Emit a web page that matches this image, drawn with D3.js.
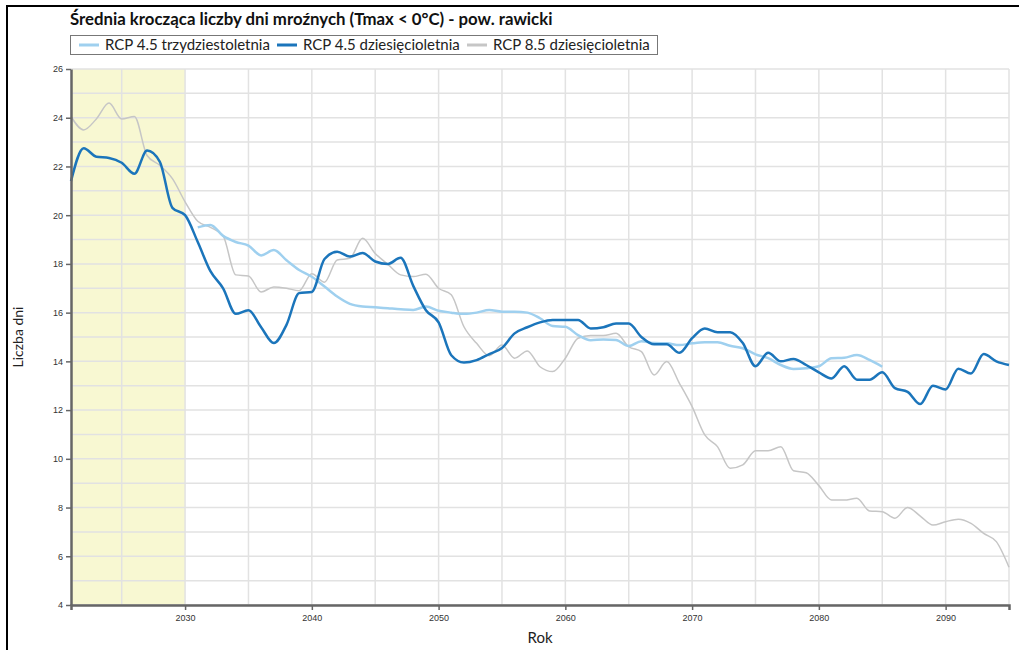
<!DOCTYPE html>
<html><head><meta charset="utf-8">
<script src="https://cdn.jsdelivr.net/npm/d3@7"></script>
<style>
body{margin:0;background:#fff;}
svg{display:block;}
</style></head><body>
<svg id="chart" width="1019" height="650"></svg>
<script>
const titleText = "Średnia krocząca liczby dni mroźnych (Tmax < 0°C) - pow. rawicki";
const seriesNames = ["RCP 4.5 trzydziestoletnia", "RCP 4.5 dziesięcioletnia", "RCP 8.5 dziesięcioletnia"];
const years = [2021,2022,2023,2024,2025,2026,2027,2028,2029,2030,
2031,2032,2033,2034,2035,2036,2037,2038,2039,2040,
2041,2042,2043,2044,2045,2046,2047,2048,2049,2050,
2051,2052,2053,2054,2055,2056,2057,2058,2059,2060,
2061,2062,2063,2064,2065,2066,2067,2068,2069,2070,
2071,2072,2073,2074,2075,2076,2077,2078,2079,2080,
2081,2082,2083,2084,2085,2086,2087,2088,2089,2090,
2091,2092,2093,2094,2095];
const rcp45_30 = [null,null,null,null,null,null,null,null,null,null,
19.5,19.6,19.15,18.9,18.75,18.35,18.57,18.15,17.75,17.47,
17.07,16.66,16.36,16.25,16.22,16.18,16.14,16.11,16.25,16.08,
16.0,15.95,16.0,16.11,16.04,16.04,16.0,15.77,15.45,15.42,
15.08,14.87,14.9,14.88,14.63,14.83,14.75,14.74,14.67,14.74,
14.78,14.78,14.64,14.54,14.29,14.13,13.85,13.69,13.72,13.8,
14.13,14.15,14.26,14.06,13.78,null,null,null,null,null,
null,null,null,null,null];
const rcp45_10 = [21.4,22.75,22.4,22.35,22.15,21.7,22.65,22.2,20.3,20.0,
18.9,17.7,17.0,15.95,16.1,15.4,14.75,15.5,16.8,16.85,
18.2,18.5,18.3,18.45,18.1,18.0,18.25,17.1,16.1,15.6,
14.25,13.95,14.05,14.3,14.55,15.15,15.4,15.6,15.7,15.7,
15.7,15.35,15.4,15.55,15.55,15.0,14.7,14.7,14.35,14.95,
15.35,15.2,15.2,14.75,13.8,14.35,14.0,14.1,13.85,13.55,
13.3,13.8,13.25,13.25,13.55,12.9,12.75,12.25,13.0,12.85,
13.7,13.5,14.3,14.0,13.85];
const rcp85_10 = [24.05,23.5,23.95,24.6,23.95,24.05,22.45,22.05,21.5,20.55,
19.75,19.5,19.15,17.55,17.5,16.85,17.05,17.0,16.9,17.6,
17.25,18.16,18.23,19.05,18.43,17.98,17.55,17.48,17.58,17.0,
16.73,15.42,14.74,14.23,14.67,14.13,14.43,13.78,13.58,14.13,
14.95,15.06,15.06,15.15,14.6,14.4,13.44,13.99,13.1,12.14,
10.98,10.5,9.61,9.75,10.33,10.33,10.5,9.51,9.43,8.9,
8.31,8.31,8.38,7.86,7.83,7.56,8.0,7.65,7.28,7.42,
7.52,7.35,6.94,6.6,5.55];
const xTicks = [2030,2040,2050,2060,2070,2080,2090];
const xGrid = [2025,2030,2035,2040,2045,2050,2055,2060,2065,2070,2075,2080,2085,2090,2095];
const yTicks = [4,6,8,10,12,14,16,18,20,22,24,26];
const yGrid = [4,5,6,7,8,9,10,11,12,13,14,15,16,17,18,19,20,21,22,23,24,25,26];
const baseline = [2021, 2030];
const colors = ["#9fd0ef", "#1b75bb", "#c6c6c6"];
const widths = [2.5, 2.5, 1.5];

const svg = d3.select("#chart");
const m = {l:71, r:1009, t:69, b:605};
const x = d3.scaleLinear().domain([2021, 2095]).range([m.l, m.r]);
const y = d3.scaleLinear().domain([4, 26]).range([m.b, m.t]);

// outer frame
svg.append("path").attr("d", `M7,650 V6 H1019`).attr("fill","none").attr("stroke","#000").attr("stroke-width",2);

// baseline band
svg.append("rect").attr("x", x(baseline[0])).attr("y", y(26)).attr("width", x(baseline[1]) - x(baseline[0]))
  .attr("height", y(4) - y(26)).attr("fill", "#f8f8d2");

// grid
const g = svg.append("g");
g.selectAll("line.h").data(yGrid).join("line").attr("x1", m.l).attr("x2", m.r)
  .attr("y1", d => y(d)).attr("y2", d => y(d)).attr("stroke", "#e2e2e2").attr("stroke-width", 1.5);
g.selectAll("line.v").data(xGrid).join("line").attr("y1", m.t).attr("y2", m.b)
  .attr("x1", d => x(d)).attr("x2", d => x(d)).attr("stroke", "#e2e2e2").attr("stroke-width", 1.5);

// lines
const series = [rcp45_30, rcp45_10, rcp85_10];
const line = d3.line().defined(d => d[1] != null).x(d => x(d[0])).y(d => y(d[1])).curve(d3.curveMonotoneX);
[2, 0, 1].forEach(i => {
  const data = years.map((yr, k) => [yr, series[i][k]]);
  svg.append("path").datum(data).attr("d", line).attr("fill", "none")
    .attr("stroke", colors[i]).attr("stroke-width", widths[i]).attr("stroke-linejoin","round");
});

// axes
const xAxis = d3.axisBottom(x).tickValues(xTicks).tickFormat(d3.format("d")).tickSize(5).tickSizeOuter(5);
const gx = svg.append("g").attr("transform", `translate(0,${m.b})`).call(xAxis);
gx.select(".domain").attr("stroke", "#666").attr("stroke-width", 2.5);
gx.selectAll(".tick line").attr("stroke", "#666").attr("stroke-width", 1.5);
gx.selectAll("text").attr("font-family", "Liberation Sans, Arial, sans-serif").attr("font-size", 9).attr("fill", "#333").attr("dy", "0.9em");

const yAxis = d3.axisLeft(y).tickValues(yTicks).tickSize(5).tickSizeOuter(0);
const gy = svg.append("g").attr("transform", `translate(${m.l},0)`).call(yAxis);
gy.select(".domain").attr("stroke", "#666").attr("stroke-width", 2.5);
gy.selectAll(".tick line").attr("stroke", "#666").attr("stroke-width", 1.5);
gy.selectAll("text").attr("font-family", "Liberation Sans, Arial, sans-serif").attr("font-size", 9).attr("fill", "#333");

// axis titles
svg.append("text").attr("x", 540).attr("y", 643).attr("text-anchor","middle")
  .attr("font-family","Lato, sans-serif").attr("font-size", 15).attr("fill","#222").text("Rok");
svg.append("text").attr("transform", "translate(23,337) rotate(-90)").attr("text-anchor","middle")
  .attr("font-family","Lato, sans-serif").attr("font-size", 14).attr("fill","#222").text("Liczba dni");

// title
svg.append("text").attr("x", 70).attr("y", 25).attr("font-family","Lato, sans-serif")
  .attr("font-weight","bold").attr("font-size", 16.8).attr("fill","#111").text(titleText);

// legend
const lg = svg.append("g");
lg.append("rect").attr("x", 70.5).attr("y", 35.5).attr("width", 587).attr("height", 19)
  .attr("fill","#fff").attr("stroke","#777").attr("stroke-width",1);
const legX = [79, 277, 467];
seriesNames.forEach((n, i) => {
  lg.append("line").attr("x1", legX[i]).attr("x2", legX[i] + 20).attr("y1", 45).attr("y2", 45)
    .attr("stroke", colors[i]).attr("stroke-width", 3);
  lg.append("text").attr("x", legX[i] + 26).attr("y", 50).attr("font-family","Lato, sans-serif")
    .attr("font-size", 15).attr("fill","#222").text(n);
});
</script>
</body></html>
